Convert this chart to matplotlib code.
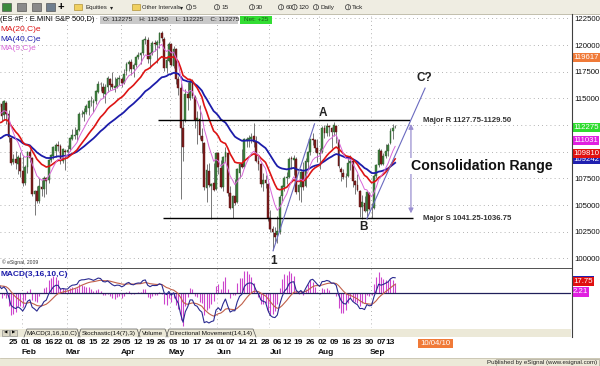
import numpy as np
import pandas as pd
import matplotlib
matplotlib.use("Agg")
import matplotlib.pyplot as plt
from matplotlib.patches import Rectangle, Circle
from matplotlib import transforms

plt.rcParams['font.family'] = ['Liberation Sans', 'DejaVu Sans']

# ---- data (ES #F daily) ----
holidays = ["2010-01-18", "2010-02-15", "2010-04-02", "2010-05-31", "2010-07-05", "2010-09-06"]
dates = pd.bdate_range("2010-01-14", "2010-09-15")
dates = dates[~dates.isin(pd.to_datetime(holidays))]

opens = [
    1142, 1145, 1134, 1146, 1135, 1113, 1090, 1093, 1088, 1094, 1082,
    1071, 1086, 1100, 1094, 1060, 1063, 1054, 1067, 1065, 1075, 1073, 1092, 1096, 1101, 1106, 1105, 1091, 1101, 1100,
    1102, 1112, 1115, 1116, 1120, 1135, 1135, 1137, 1141, 1147, 1146, 1147, 1156, 1163, 1161, 1154, 1161, 1168, 1163, 1160, 1161, 1168, 1168,
    1164, 1176, 1182, 1184, 1177, 1181, 1189, 1191, 1192, 1205, 1205, 1187, 1192, 1201, 1200, 1202, 1211, 1206, 1178, 1185, 1201,
    1180, 1196, 1168, 1160, 1122, 1130, 1154, 1150, 1166, 1151, 1130, 1131, 1115, 1108, 1066, 1082, 1068, 1071, 1065, 1099,
    1085, 1067, 1095, 1099, 1061, 1047, 1058, 1053, 1080, 1088, 1086, 1111, 1111, 1112, 1115, 1109, 1091, 1088, 1070, 1073, 1070, 1038,
    1027, 1024, 1022, 1025, 1058, 1067, 1075, 1076, 1093, 1092, 1093, 1062, 1067, 1081, 1068, 1090, 1100, 1112, 1111, 1103, 1098,
    1100, 1122, 1117, 1123, 1122, 1118, 1124, 1111, 1084, 1080, 1076, 1077, 1089, 1091, 1072, 1069, 1063, 1048, 1052, 1044, 1061, 1046,
    1047, 1077, 1087, 1101, 1088, 1096, 1101, 1108, 1119, 1122.75,
]
highs = [
    1148, 1147, 1148.5, 1147, 1139, 1114, 1098, 1101, 1097, 1100, 1096,
    1087, 1101, 1102, 1095, 1064, 1068, 1075, 1073, 1077, 1076, 1093, 1098, 1105, 1108, 1110, 1107, 1103, 1102, 1106,
    1114, 1121, 1123, 1121, 1137, 1139, 1141, 1145, 1148, 1152, 1149, 1158, 1166, 1165, 1164, 1163, 1171, 1169, 1175, 1170, 1170, 1172, 1170,
    1177, 1184, 1186, 1187, 1183, 1190, 1193, 1193, 1206, 1208, 1207, 1193, 1204, 1205, 1205, 1212, 1213, 1207, 1189, 1203, 1202,
    1199, 1197, 1171, 1164, 1131, 1159, 1165, 1168, 1168, 1153, 1138, 1144, 1122, 1109, 1088, 1089, 1071, 1089, 1100, 1100,
    1092, 1096, 1104, 1100, 1068, 1059, 1074, 1085, 1089, 1102, 1113, 1114, 1116, 1117, 1127, 1115, 1097, 1089, 1080, 1078, 1071, 1045,
    1030, 1029, 1040, 1059, 1069, 1077, 1081, 1095, 1096, 1097, 1095, 1070, 1082, 1090, 1094, 1101, 1112, 1117, 1112, 1112, 1103,
    1124, 1125, 1127, 1125, 1123, 1128, 1125, 1112, 1086, 1084, 1080, 1096, 1097, 1093, 1073, 1079, 1064, 1059, 1058, 1063, 1062, 1052,
    1079, 1088, 1103, 1102, 1099, 1107, 1108, 1122, 1126, 1124.5,
]
lows = [
    1140, 1129, 1130, 1126, 1109, 1087, 1088, 1084, 1079, 1076, 1068,
    1069, 1080, 1090, 1058, 1041, 1052, 1052, 1058, 1057, 1060, 1071, 1090, 1093, 1095, 1101, 1088, 1089, 1083, 1096,
    1101, 1111, 1112, 1111, 1119, 1132, 1129, 1135, 1134, 1143, 1137, 1145, 1155, 1157, 1150, 1146, 1156, 1158, 1159, 1156, 1160, 1162, 1161,
    1163, 1172, 1176, 1172, 1170, 1179, 1187, 1182, 1191, 1201, 1183, 1178, 1191, 1194, 1183, 1197, 1204, 1176, 1174, 1184, 1180,
    1178, 1163, 1153, 1056, 1091, 1128, 1139, 1148, 1150, 1122, 1107, 1112, 1099, 1064, 1053, 1067, 1037, 1063, 1064, 1079,
    1066, 1063, 1090, 1058, 1046, 1038, 1050, 1052, 1075, 1085, 1085, 1104, 1104, 1108, 1104, 1090, 1083, 1067, 1063, 1066, 1035, 1025,
    1008, 1015, 1014, 1023, 1054, 1063, 1070, 1075, 1084, 1078, 1060, 1055, 1053, 1064, 1067, 1084, 1097, 1106, 1100, 1090, 1084,
    1099, 1113, 1115, 1115, 1103, 1115, 1108, 1085, 1072, 1074, 1067, 1076, 1083, 1067, 1060, 1063, 1039, 1037, 1043, 1037, 1045, 1038,
    1046, 1075, 1086, 1087, 1087, 1094, 1096, 1107, 1112, 1122.25,
]
closes = [
    1145.5, 1133, 1147, 1135, 1113.5, 1089, 1093.5, 1089, 1094.5, 1081.5, 1071,
    1086, 1100, 1094, 1060, 1063, 1053.5, 1067.5, 1065, 1075.5, 1072.5, 1092, 1096.5, 1104, 1106, 1105, 1091.5, 1102, 1100, 1101.5,
    1112.5, 1115.5, 1116, 1120, 1135.5, 1135.5, 1137.5, 1142.5, 1147, 1147, 1147.5, 1156.5, 1163, 1162.5, 1155, 1161, 1169, 1162.5, 1160.5, 1161.5, 1168, 1168, 1164,
    1173, 1182, 1184, 1177, 1181, 1189, 1191, 1192, 1205, 1206, 1187, 1192, 1201.5, 1200.5, 1203, 1211.5, 1206.5, 1178, 1185.5, 1201, 1181,
    1196.5, 1168, 1160, 1122, 1104, 1154, 1150, 1166, 1152, 1130, 1131.5, 1115.5, 1110, 1067, 1083, 1069, 1070, 1064, 1099, 1085.5,
    1067, 1095, 1099.5, 1061.5, 1047, 1058.5, 1052, 1083.5, 1088, 1086, 1112, 1111, 1112.5, 1113.5, 1109, 1091.5, 1088.5, 1070, 1073, 1071, 1038, 1027.5,
    1024.5, 1020, 1025.5, 1057.5, 1067.5, 1075.5, 1076, 1093, 1092.5, 1094, 1062, 1068.5, 1081, 1066.5, 1091, 1100, 1112, 1111, 1103, 1099, 1098.5,
    1122.5, 1117.5, 1124, 1122.5, 1118.5, 1124.5, 1118, 1086.5, 1080.5, 1076, 1076.5, 1089.5, 1091, 1072.5, 1069, 1064, 1048.5, 1052.5, 1044, 1062, 1046, 1046.5,
    1077.5, 1087, 1101.5, 1088.5, 1095.5, 1101, 1106.5, 1119, 1122.5, 1122.75,
]
# closes before the visible window (Nov 2009 - Jan 13 2010), only to seed the averages
warmup_closes = [
    1040, 1042, 1043.5, 1063.5, 1066, 1090, 1090, 1095.5, 1084, 1090.5, 1106, 1107, 1107, 1092, 1088.5, 1103, 1102.5, 1107.5, 1088.5, 1092.5,
    1106, 1106, 1097, 1103, 1100, 1089, 1093, 1099.5, 1103.5, 1111, 1105, 1106, 1093, 1099.5, 1111, 1115, 1117.5, 1123.5, 1125, 1123, 1123.5, 1112,
    1130, 1133.5, 1134, 1138.5, 1142, 1144, 1133, 1142.5,
]
assert len(opens) == len(highs) == len(lows) == len(closes) == len(dates)

price_ticks = [1000, 1025, 1050, 1075, 1100, 1125, 1150, 1175, 1200, 1225]
last_labels = [(1196.17, '119617', '#f07a38'), (1092.42, '109242', '#2020b0'),
               (1098.10, '109810', '#e01010'), (1110.31, '111031', '#e020e0'),
               (1122.75, '112275', '#2edc2e')]
macd_labels = [(19.96, '19.96', '#2020b0'), (17.75, '17.75', '#e01010'), (2.21, '2.21', '#e020e0')]
resistance = 1129.5
support = 1037.5
toolbar_intervals = ['5', '15', '30', '60', '120', 'Daily', 'Tick']

# ---- derived studies ----
n = len(closes)
x = np.arange(n)
allc = pd.Series(warmup_closes + closes)
ma20 = allc.ewm(span=20, adjust=False).mean().values[-n:]
ma40 = allc.ewm(span=40, adjust=False).mean().values[-n:]
ma9 = allc.ewm(span=9, adjust=False).mean().values[-n:]
macd_all = allc.ewm(span=3, adjust=False).mean() - allc.ewm(span=16, adjust=False).mean()
sig_all = macd_all.ewm(span=10, adjust=False).mean()
macd = macd_all.values[-n:]
sig = sig_all.values[-n:]
hist = macd - sig
hist_scale = 1.6   # histogram is drawn on its own, larger scale

# ---- layout in pixels ----
W, H = 600, 366
def fbox(x0, y0, x1, y1):
    return [x0 / W, 1 - y1 / H, (x1 - x0) / W, (y1 - y0) / H]

fig = plt.figure(figsize=(6, 3.66), dpi=100)
fig.patch.set_facecolor('white')

xlim = (0.36, 242.6)
ax = fig.add_axes(fbox(0, 14, 571, 267))
axm = fig.add_axes(fbox(0, 268, 571, 328))
for a in (ax, axm):
    a.set_xlim(*xlim)
    a.set_xticks([])
    a.set_yticks([])
    for s in a.spines.values():
        s.set_visible(False)
ax.set_ylim(991.8, 1229.0)
axm.set_ylim(-53, 38.8)

# grid
dot = (0, (1, 4))
for p in price_ticks:
    ax.axhline(p, color='#9a9a9a', lw=0.6, ls=dot, zorder=0)
month_first = [dates.get_loc(dates[dates.month == m][0]) for m in range(2, 10)]
for i in month_first:
    ax.axvline(i - 1.4, color='#9a9a9a', lw=0.6, ls=dot, zorder=0)
    axm.axvline(i - 1.4, color='#9a9a9a', lw=0.6, ls=dot, zorder=0)

# candles
o = np.array(opens); h = np.array(highs); l = np.array(lows); c = np.array(closes)
up = c >= o
ax.vlines(x, l, h, color='#777777', lw=0.7, zorder=2)
body = np.where(np.abs(c - o) < 0.6, 0.6, c - o)
ax.bar(x[up], body[up], bottom=o[up], width=0.75, color='#3f803f', edgecolor='#2c5e2c', lw=0.3, zorder=3)
ax.bar(x[~up], body[~up], bottom=o[~up], width=0.75, color='#7a1c1c', edgecolor='#5a1010', lw=0.3, zorder=3)

# moving averages
ax.plot(x, ma40, color='#1c1caa', lw=1.3, zorder=4)
ax.plot(x, ma20, color='#dd1414', lw=1.2, zorder=4)
ax.plot(x, ma9, color='#d866d8', lw=0.7, zorder=4)

# drawings
ax.hlines(resistance, 67.5, 174.3, color='black', lw=1.0, zorder=5)
ax.hlines(support, 69.6, 175.6, color='black', lw=1.0, zorder=5)
ax.plot([116.2, 133.8], [1007, 1126], color='#6a6ac0', lw=0.8, zorder=5)
ax.plot([156.0, 180.7], [1037, 1159.5], color='#6a6ac0', lw=0.8, zorder=5)
ax.annotate('', xy=(174.7, 1128.5), xytext=(174.7, 1039.5),
            arrowprops=dict(arrowstyle='<|-|>', color='#9a8fd0', lw=0.9, mutation_scale=7), zorder=5)
ax.text(174.8, 1086.5, 'Consolidation Range', fontsize=10.2, fontweight='bold', ha='left', va='center',
        color='#111111', bbox=dict(facecolor='white', edgecolor='none', pad=0.5), zorder=6)
ax.text(179.8, resistance, 'Major R 1127.75-1129.50', fontsize=5.6, fontweight='bold', color='#333333',
        ha='left', va='center', zorder=6)
ax.text(179.8, support, 'Major S 1041.25-1036.75', fontsize=5.6, fontweight='bold', color='#333333',
        ha='left', va='center', zorder=6)
for t, xi, yi in [('A', 137.3, 1136.5), ('B', 154.5, 1029.6), ('1', 116.3, 997.0), ('C?', 180.5, 1168.7)]:
    ax.text(xi, yi, t, fontsize=8.5, fontweight='bold', color='#222222', ha='center', va='center', zorder=6)
ax.text(1.2, 996, '© eSignal, 2009', fontsize=3.6, color='#333333', ha='left', va='center')

# right price scale
rt = transforms.blended_transform_factory(ax.transAxes, ax.transData)
for p in price_ticks:
    ax.text(1.0 + 3 / 571, p - 1.3, f'{p * 100}', transform=rt, fontsize=5.6, ha='left', va='center',
            color='#111111', clip_on=False)
for v, s, col in last_labels:
    tr = rt if v != 1196.17 else transforms.offset_copy(rt, fig=fig, y=-8.5, units='dots')
    ax.text(1.0 + 2 / 571, v, s, transform=tr, fontsize=5.6, ha='left', va='center', color='white',
            bbox=dict(facecolor=col, edgecolor='none', boxstyle='square,pad=0.15'), clip_on=False, zorder=8)

# MACD pane
axm.vlines(x, 0, hist * hist_scale, color='#cc44cc', lw=0.8, zorder=2)
axm.axhline(0, color='#20205a', lw=0.9, zorder=3)
axm.plot(x, sig, color='#c0604a', lw=0.8, zorder=4)
axm.plot(x, macd, color='#2a2a90', lw=0.8, zorder=4)
rtm = transforms.blended_transform_factory(axm.transAxes, axm.transData)
for v, s, col in macd_labels:
    axm.text(1.0 + 2 / 571, v, s, transform=rtm, fontsize=5.6, ha='left', va='center', color='white',
             bbox=dict(facecolor=col, edgecolor='none', boxstyle='square,pad=0.15'), clip_on=False, zorder=8)

# ---- window chrome in pixel coords ----
ov = fig.add_axes([0, 0, 1, 1], zorder=5)
ov.set_xlim(0, W)
ov.set_ylim(H, 0)
ov.axis('off')

# toolbar
ov.add_patch(Rectangle((0, 0), W, 13.5, facecolor='#efede2', edgecolor='none'))
ov.plot([0, W], [13.5, 13.5], color='#b8b4a0', lw=0.6)
for x0, col in [(2, '#3c8a3c'), (17, '#8a8a8a'), (32, '#8a8a8a'), (46, '#6f7f8f')]:
    ov.add_patch(Rectangle((x0, 3), 9, 8, facecolor=col, edgecolor='#404040', lw=0.4))
ov.text(61, 7, '+', fontsize=8, fontweight='bold', ha='center', va='center', color='black')
for x0 in (74, 132):
    ov.add_patch(Rectangle((x0, 4), 8, 6, facecolor='#f0d060', edgecolor='#a08020', lw=0.4))
ov.text(85, 7.3, 'Equities', fontsize=4.4, ha='left', va='center', color='#222222')
ov.text(112, 7.3, '▾', fontsize=4.4, ha='center', va='center', color='#222222')
ov.text(142, 7.3, 'Other Intervals', fontsize=4.2, ha='left', va='center', color='#222222')
ov.text(182, 7.3, '▾', fontsize=4.4, ha='center', va='center', color='#222222')
for cx, lab in zip([189, 217, 252, 281, 294.5, 316, 348], toolbar_intervals):
    ov.add_patch(Circle((cx, 7.2), 2.6, facecolor='none', edgecolor='#333333', lw=0.5))
    ov.text(cx, 7.3, 'I', fontsize=3.6, ha='center', va='center', color='#333333')
    ov.text(cx + 4.2, 7.3, lab, fontsize=4.6, ha='left', va='center', color='#222222')

# header
ov.text(0.5, 19.5, '(ES #F : E.MINI S&P 500,D)', fontsize=5.4, ha='left', va='center', color='black')
ov.add_patch(Rectangle((100, 15.5), 138, 8, facecolor='#c9c9c9', edgecolor='none'))
ov.text(103, 19.6, 'O: 112275    H: 112450    L: 112225    C: 112275', fontsize=4.6, ha='left', va='center',
        color='#222222')
ov.add_patch(Rectangle((240, 15.5), 32, 8, facecolor='#33dd33', edgecolor='none'))
ov.text(256, 19.6, 'Net: +25', fontsize=4.6, ha='center', va='center', color='#1a5a1a')

# study legends
ov.text(0.5, 29.5, 'MA(20,C)e', fontsize=6.0, color='#dd1414', va='center', ha='left')
ov.text(0.5, 39.5, 'MA(40,C)e', fontsize=6.0, color='#1c1caa', va='center', ha='left')
ov.text(0.5, 49.0, 'MA(9,C)e', fontsize=6.0, color='#d866d8', va='center', ha='left')
ov.text(0.5, 274.0, 'MACD(3,16,10,C)', fontsize=6.0, fontweight='bold', color='#1c1caa', va='center', ha='left')

# separators
ov.plot([0, 571], [267.5, 267.5], color='#505050', lw=0.7)
ov.plot([571.5, 571.5], [14, 337], color='#404040', lw=0.8)

# tab bar
ov.add_patch(Rectangle((0, 328.5), 571, 8.5, facecolor='#ece9d8', edgecolor='none'))
ov.add_patch(Rectangle((2, 329.5), 7, 6.5, facecolor='#dcd8c6', edgecolor='#808080', lw=0.4))
ov.add_patch(Rectangle((10, 329.5), 7, 6.5, facecolor='#dcd8c6', edgecolor='#808080', lw=0.4))
ov.text(5.5, 333, '◀', fontsize=3.2, ha='center', va='center', color='black')
ov.text(13.5, 333, '▶', fontsize=3.2, ha='center', va='center', color='black')
tabs = [(26, 78, 'MACD(3,16,10,C)'), (80, 138, 'Stochastic(14(7),3)'),
        (140, 166, 'Volume'), (168, 254, 'Directional Movement(14,14)')]
for x0, x1, lab in tabs:
    ov.plot([x0 - 2, x0 + 1, x1 - 1, x1 + 2], [337, 329, 329, 337], color='#555555', lw=0.5)
    ov.text((x0 + x1) / 2, 333.2, lab, fontsize=4.6, ha='center', va='center', color='#111111')

# date axis
dt = transforms.blended_transform_factory(ax.transData, fig.transFigure)
weeks = pd.Series(np.arange(n), index=dates)
week_first = weeks.groupby(dates.to_period('W')).first()
for i in week_first.values:
    if dates[i] >= pd.Timestamp('2010-01-25'):
        ax.text(i, 1 - 343 / H, f'{dates[i].day:02d}', transform=dt,
                fontsize=6.0, fontweight='bold', ha='center', va='center', color='#111111', clip_on=False)
for i in month_first:
    ax.text(i + 1.5, 1 - 353 / H, dates[i].strftime('%b'), transform=dt,
            fontsize=6.0, fontweight='bold', ha='center', va='center', color='#111111', clip_on=False)
ov.add_patch(Rectangle((418, 338.5), 35, 9, facecolor='#f07a38', edgecolor='none'))
ov.text(435.5, 343.2, '10/04/10', fontsize=5.6, ha='center', va='center', color='white')

# status bar
ov.add_patch(Rectangle((0, 358), W, 8, facecolor='#ece9d8', edgecolor='none'))
ov.plot([0, W], [358, 358], color='#c0bca8', lw=0.5)
ov.add_patch(Rectangle((496, 359), 103, 6.5, facecolor='none', edgecolor='#9a9688', lw=0.4))
ov.text(597, 362.3, 'Published by eSignal (www.esignal.com)', fontsize=4.4, ha='right', va='center', color='#222222')

fig.savefig('out.png', dpi=100)
